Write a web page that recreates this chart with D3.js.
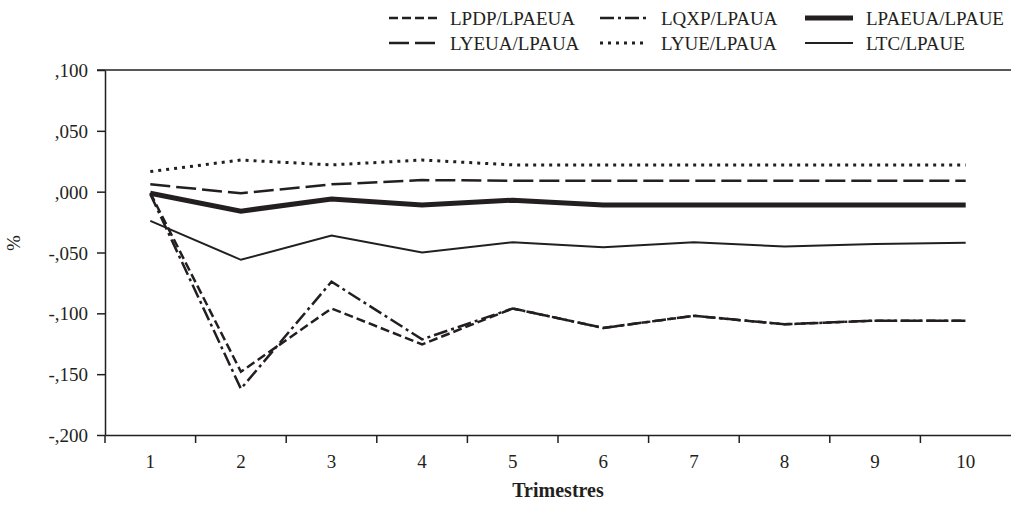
<!DOCTYPE html>
<html><head><meta charset="utf-8">
<script src="https://cdn.jsdelivr.net/npm/d3@7/dist/d3.min.js"></script>
<style>
body{margin:0;background:#fff;}
text{font-family:"Liberation Serif","DejaVu Serif",serif;fill:#231f20;}
</style></head>
<body><svg id="c" width="1011" height="508"></svg>
<script>
const quarters = ["1","2","3","4","5","6","7","8","9","10"];
const yTicks = [0.1,0.05,0,-0.05,-0.1,-0.15,-0.2];
const yTickLabels = [",100",",050",",000","-,050","-,100","-,150","-,200"];
const lpdp   = [-0.001,-0.148,-0.096,-0.1255,-0.096,-0.112,-0.102,-0.109,-0.106,-0.106];
const lqxp   = [-0.002,-0.162,-0.074,-0.1214,-0.096,-0.112,-0.102,-0.109,-0.106,-0.106];
const lpaeua = [-0.0013,-0.016,-0.006,-0.011,-0.007,-0.011,-0.011,-0.011,-0.011,-0.011];
const lyeua  = [0.006,-0.0013,0.006,0.0095,0.009,0.009,0.009,0.009,0.009,0.009];
const lyue   = [0.0165,0.026,0.022,0.026,0.022,0.022,0.022,0.022,0.022,0.022];
const ltc    = [-0.024,-0.056,-0.036,-0.050,-0.0416,-0.0457,-0.0416,-0.045,-0.043,-0.042];
const seriesNames = ["LPDP/LPAEUA","LQXP/LPAUA","LPAEUA/LPAUE","LYEUA/LPAUA","LYUE/LPAUA","LTC/LPAUE"];

const styles = {
 "LPDP/LPAEUA":{w:2.5,dash:"9,4"},
 "LQXP/LPAUA":{w:2.5,dash:"14,4,3,4"},
 "LPAEUA/LPAUE":{w:5,dash:null},
 "LYEUA/LPAUA":{w:2.5,dash:"20,6"},
 "LYUE/LPAUA":{w:3,dash:"3,5"},
 "LTC/LPAUE":{w:2,dash:null}
};
const data = [
 {name:seriesNames[0],values:lpdp},
 {name:seriesNames[1],values:lqxp},
 {name:seriesNames[2],values:lpaeua},
 {name:seriesNames[3],values:lyeua},
 {name:seriesNames[4],values:lyue},
 {name:seriesNames[5],values:ltc}
];

const svg = d3.select("#c");
const col = "#231f20";
const x = d3.scaleBand().domain(quarters).range([105,1011]);
const y = d3.scaleLinear().domain([-0.2,0.1]).range([435,70]);

// top frame line
svg.append("line").attr("x1",97).attr("x2",1011).attr("y1",y(0.1)).attr("y2",y(0.1))
  .attr("stroke",col).attr("stroke-width",1.5);

// y axis
const ya = svg.append("g").attr("transform","translate(105,0)")
  .call(d3.axisLeft(y).tickValues(yTicks).tickSize(8).tickSizeOuter(0)
  .tickFormat((d,i)=>yTickLabels[i]));
ya.select(".domain").attr("stroke",col).attr("stroke-width",1.5);
ya.selectAll(".tick line").attr("stroke",col).attr("stroke-width",1.5);
ya.selectAll(".tick text").attr("x",-17).attr("dy","0.35em")
  .style("font-family","'Liberation Serif',serif").style("font-size","19px").attr("fill",col);
svg.append("line").attr("x1",105).attr("x2",105).attr("y1",435).attr("y2",443)
  .attr("stroke",col).attr("stroke-width",1.5);

// x axis
const xa = svg.append("g").attr("transform","translate(0,435)")
  .call(d3.axisBottom(x).tickSize(0).tickSizeOuter(0));
xa.select(".domain").attr("stroke",col).attr("stroke-width",1.5);
xa.selectAll(".tick text").attr("y",20).attr("dy","0.71em")
  .style("font-family","'Liberation Serif',serif").style("font-size","19px").attr("fill",col);
svg.append("g").selectAll("line").data(quarters.slice(1)).join("line")
  .attr("x1",d=>x(d)).attr("x2",d=>x(d)).attr("y1",435).attr("y2",443)
  .attr("stroke",col).attr("stroke-width",1.5);

// lines
const line = d3.line().x((d,i)=>x(quarters[i])+x.bandwidth()/2).y(d=>y(d));
svg.append("g").selectAll("path").data(data).join("path")
  .attr("d",d=>line(d.values)).attr("fill","none").attr("stroke",col)
  .attr("stroke-width",d=>styles[d.name].w)
  .attr("stroke-dasharray",d=>styles[d.name].dash)
  .attr("stroke-linejoin","miter");

// legend
const legendPos = [
 {name:"LPDP/LPAEUA",x:389,y:18},
 {name:"LQXP/LPAUA",x:600,y:18},
 {name:"LPAEUA/LPAUE",x:805,y:18},
 {name:"LYEUA/LPAUA",x:389,y:43},
 {name:"LYUE/LPAUA",x:600,y:43},
 {name:"LTC/LPAUE",x:805,y:43}
];
const lg = svg.append("g");
legendPos.forEach(p=>{
  const s = styles[p.name];
  lg.append("line").attr("x1",p.x).attr("x2",p.x+48).attr("y1",p.y).attr("y2",p.y)
    .attr("stroke",col).attr("stroke-width",s.w).attr("stroke-dasharray",s.dash);
  lg.append("text").attr("x",p.x+61).attr("y",p.y).attr("dy","0.35em")
    .style("font-size","19px").text(p.name);
});

// axis titles
svg.append("text").attr("x",558).attr("y",497).attr("text-anchor","middle")
  .style("font-size","20px").style("font-weight","bold").text("Trimestres");
svg.append("text").attr("transform","translate(20,243) rotate(-90)")
  .attr("text-anchor","middle").style("font-size","19px").text("%");
</script></body></html>
